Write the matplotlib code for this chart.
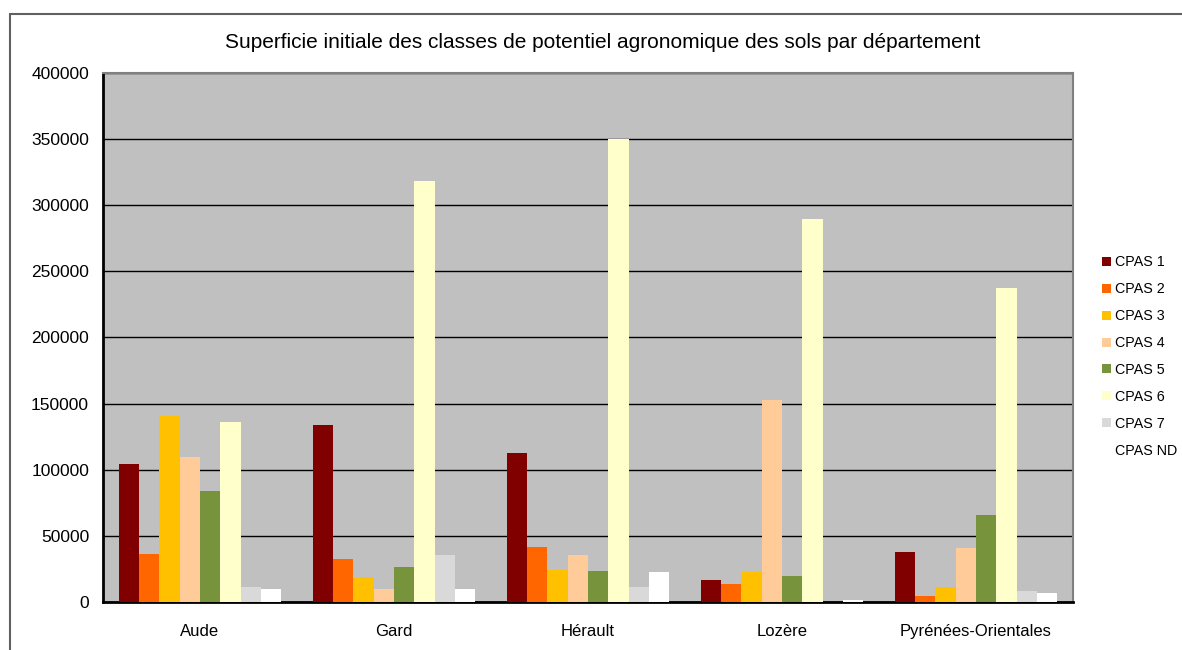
import numpy as np
import matplotlib.pyplot as plt
from matplotlib.patches import Rectangle

plt.rcParams['font.family'] = ['Liberation Sans', 'DejaVu Sans']

departements = ["Aude", "Gard", "Hérault", "Lozère", "Pyrénées-Orientales"]
classes = ["CPAS 1", "CPAS 2", "CPAS 3", "CPAS 4", "CPAS 5", "CPAS 6", "CPAS 7", "CPAS ND"]

cpas1 = [104000, 133500, 112500, 16500, 37500]
cpas2 = [36500, 32500, 41500, 13500, 4500]
cpas3 = [140500, 19000, 24000, 22500, 11000]
cpas4 = [109500, 10000, 35500, 152500, 40500]
cpas5 = [84000, 26500, 23500, 19500, 65500]
cpas6 = [136000, 318500, 350000, 289500, 237500]
cpas7 = [11500, 35500, 11500, 300, 8500]
cpas_nd = [10000, 10000, 22500, 1500, 7000]

colors = ["#800000", "#FF6600", "#FFC000", "#FFCC99", "#77933C", "#FFFFCC", "#D9D9D9", "#FFFFFF"]

series = [cpas1, cpas2, cpas3, cpas4, cpas5, cpas6, cpas7, cpas_nd]

fig = plt.figure(figsize=(11.82, 6.5), dpi=100)
ax = fig.add_axes([103/1182, 1-602/650, 970/1182, 529/650])
ax.set_facecolor("#C0C0C0")

x = np.arange(len(departements))
width = 0.84 / len(series)
for i, (vals, c, lab) in enumerate(zip(series, colors, classes)):
    offs = (i - (len(series) - 1) / 2) * width
    ax.bar(x + offs, vals, width, color=c, label=lab, zorder=3)

ax.set_xlim(-0.5, len(departements) - 0.5)
ax.set_ylim(0, 400000)
ax.set_yticks(np.arange(0, 400001, 50000))
ax.set_xticks(x)
ax.set_xticklabels(departements, fontsize=12)
ax.tick_params(axis='y', labelsize=12.5, length=0, pad=10)
ax.tick_params(axis='x', length=0, pad=16)
ax.yaxis.grid(True, color="black", linewidth=1, zorder=1)
ax.set_axisbelow(True)

for s in ["left", "bottom"]:
    ax.spines[s].set_linewidth(2)
    ax.spines[s].set_color("black")
for s in ["top", "right"]:
    ax.spines[s].set_linewidth(1.5)
    ax.spines[s].set_color("#808080")

fig.text((220 + 985) / 2 / 1182, 1 - 42/650, "Superficie initiale des classes de potentiel agronomique des sols par département",
         ha="center", va="center", fontsize=15)

leg = ax.legend(loc="center left", bbox_to_anchor=(1.017, 0.464), frameon=False, fontsize=10.3,
                handlelength=0.6, handleheight=0.6, handletextpad=0.25, labelspacing=0.9)

# outer chart frame
fig.patches.append(Rectangle((10/1182, -0.1), 1.2, 1 - 14/650 + 0.1, transform=fig.transFigure,
                             fill=False, edgecolor="#606060", linewidth=1.5))

fig.savefig("out.png", dpi=100)
